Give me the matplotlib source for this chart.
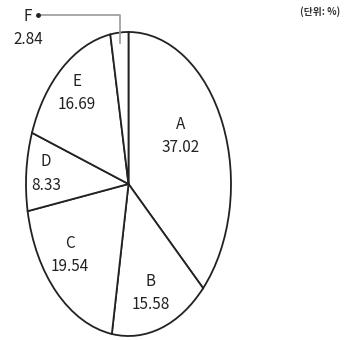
import numpy as np
import matplotlib.pyplot as plt

# Data
categories = ['A', 'B', 'C', 'D', 'E', 'F']
shares = [37.02, 15.58, 19.54, 8.33, 16.69, 2.84]
unit_label = '(단위: %)'

fam = ['Noto Sans CJK KR', 'DejaVu Sans']
fsize = 11
tcol = '#222222'

fig = plt.figure(figsize=(3.44, 3.40), dpi=100)
# ellipse box in pixels: x 26..231, y(top) 32..336
ax = fig.add_axes([26/344, 4/340, 205/344, 304/340])

wedges, _ = ax.pie(shares, startangle=90, counterclock=False,
                   colors=['white']*len(shares),
                   wedgeprops=dict(edgecolor='#222222', linewidth=1.3))
ax.set_aspect('auto')
ax.set_xlim(-1, 1)
ax.set_ylim(-1, 1)
ax.axis('off')

# label radius / angle nudge for each wedge (layout only)
label_r = [0.6, 0.75, 0.74, 0.81, 0.78]
nudge = [8, -2, -6, 0, 0]
for i in range(len(categories) - 1):
    w = wedges[i]
    mid = np.deg2rad((w.theta1 + w.theta2) / 2 + nudge[i])
    x = label_r[i] * np.cos(mid)
    y = label_r[i] * np.sin(mid)
    ax.text(x, y + 0.08, categories[i], ha='center', va='center',
            family=fam, fontsize=fsize, weight='medium', color=tcol)
    ax.text(x, y - 0.075, f'{shares[i]:.2f}', ha='center', va='center',
            family=fam, fontsize=fsize, weight='medium', color=tcol)

# F leader line
wf = wedges[-1]
mid = np.deg2rad((wf.theta1 + wf.theta2) / 2)
px, py = 0.93 * np.cos(mid), 0.93 * np.sin(mid)
top_y = 1.11
end_x = -0.88
ax.plot([px, px, end_x], [py, top_y, top_y], color='#999999', lw=1.2, clip_on=False)
ax.plot([end_x], [top_y], 'o', color=tcol, ms=2.5, clip_on=False)
ax.text(end_x - 0.1, top_y - 0.01, categories[-1], ha='center', va='center',
        family=fam, fontsize=fsize, weight='medium', color=tcol, clip_on=False)
ax.text(end_x - 0.1, top_y - 0.16, f'{shares[-1]:.2f}', ha='center', va='center',
        family=fam, fontsize=fsize, weight='medium', color=tcol, clip_on=False)

fig.text(320/344, 1 - 12/340, unit_label, ha='center', va='center',
         family=fam, fontsize=7, weight='bold', color='#333333')

plt.savefig('out.png', dpi=100)
